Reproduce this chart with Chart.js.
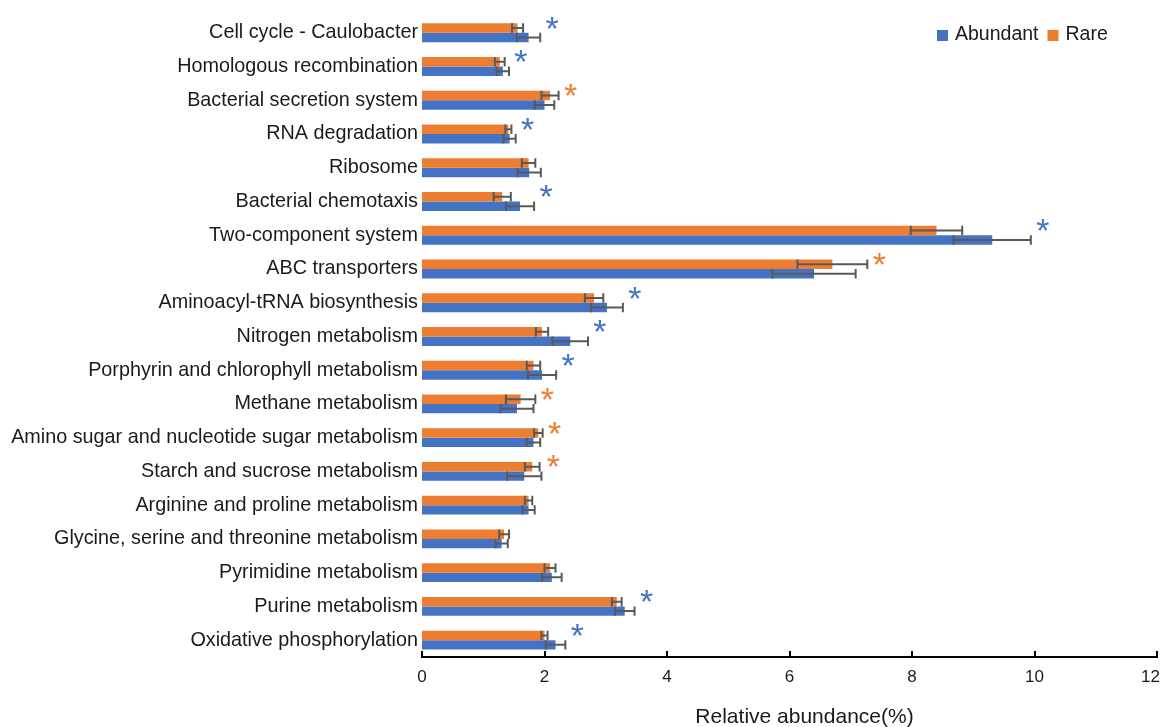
<!DOCTYPE html>
<html>
<head>
<meta charset="utf-8">
<script src="https://cdn.jsdelivr.net/npm/chart.js@4.4.1/dist/chart.umd.min.js"></script>
<style>
  html, body { margin: 0; padding: 0; background: #ffffff; }
  #wrap { width: 1164px; height: 727px; position: relative; }
</style>
</head>
<body>
<div id="wrap"><canvas id="chart" width="1164" height="727"></canvas></div>
<script>
// KEGG pathways, listed top to bottom
const pathways = [
  'Cell cycle - Caulobacter',
  'Homologous recombination',
  'Bacterial secretion system',
  'RNA degradation',
  'Ribosome',
  'Bacterial chemotaxis',
  'Two-component system',
  'ABC transporters',
  'Aminoacyl-tRNA biosynthesis',
  'Nitrogen metabolism',
  'Porphyrin and chlorophyll metabolism',
  'Methane metabolism',
  'Amino sugar and nucleotide sugar metabolism',
  'Starch and sucrose metabolism',
  'Arginine and proline metabolism',
  'Glycine, serine and threonine metabolism',
  'Pyrimidine metabolism',
  'Purine metabolism',
  'Oxidative phosphorylation'
];

// Mean relative abundance (%) and standard deviation
const abundant   = [1.74, 1.32, 2.00, 1.43, 1.75, 1.60, 9.31, 6.40, 3.02, 2.42, 1.96, 1.55, 1.82, 1.67, 1.74, 1.30, 2.12, 3.31, 2.18];
const abundantSD = [0.19, 0.10, 0.16, 0.10, 0.19, 0.23, 0.63, 0.68, 0.26, 0.29, 0.23, 0.27, 0.11, 0.28, 0.10, 0.10, 0.16, 0.16, 0.16];
const rare       = [1.56, 1.27, 2.09, 1.41, 1.74, 1.31, 8.40, 6.70, 2.81, 1.96, 1.82, 1.61, 1.90, 1.80, 1.74, 1.34, 2.09, 3.18, 2.00];
const rareSD     = [0.09, 0.08, 0.14, 0.05, 0.11, 0.14, 0.42, 0.57, 0.15, 0.10, 0.11, 0.24, 0.07, 0.12, 0.06, 0.08, 0.09, 0.08, 0.05];

// Group that is significantly enriched for each pathway ('' = not significant)
const significant = ['Abundant', 'Abundant', 'Rare', 'Abundant', '', 'Abundant', 'Abundant', 'Rare', 'Abundant',
                     'Abundant', 'Abundant', 'Rare', 'Rare', 'Rare', '', '', '', 'Abundant', 'Abundant'];

const xTicks = [0, 2, 4, 6, 8, 10, 12];
const xTitle = 'Relative abundance(%)';

const BLUE = '#4472C4';
const ORANGE = '#ED7D31';
const TEXT = '#1a1a1a';
const FONT = '"Liberation Sans", Arial, sans-serif';

// Error bars with end caps at each bar tip
const errorBars = {
  id: 'errorBars',
  afterDatasetsDraw(chart) {
    const ctx = chart.ctx;
    const xs = chart.scales.x;
    ctx.save();
    ctx.strokeStyle = '#595959';
    ctx.lineWidth = 2;
    chart.data.datasets.forEach((ds, di) => {
      const meta = chart.getDatasetMeta(di);
      meta.data.forEach((bar, i) => {
        const v = ds.data[i], e = ds.sd[i];
        const x0 = xs.getPixelForValue(v - e);
        const x1 = xs.getPixelForValue(v + e);
        const y = bar.y;
        const h = bar.height / 2;
        ctx.beginPath();
        ctx.moveTo(x0, y); ctx.lineTo(x1, y);
        ctx.moveTo(x0, y - h); ctx.lineTo(x0, y + h);
        ctx.moveTo(x1, y - h); ctx.lineTo(x1, y + h);
        ctx.stroke();
      });
    });
    ctx.restore();
  }
};

// Significance asterisks beside the longest error bar of each pathway
const asterisks = {
  id: 'asterisks',
  afterDatasetsDraw(chart) {
    const ctx = chart.ctx;
    const xs = chart.scales.x;
    const ys = chart.scales.y;
    ctx.save();
    ctx.font = '34px ' + FONT;
    ctx.textAlign = 'center';
    ctx.textBaseline = 'alphabetic';
    significant.forEach((g, i) => {
      if (!g) return;
      const reach = Math.max(abundant[i] + abundantSD[i], rare[i] + rareSD[i]);
      const x = xs.getPixelForValue(reach) + 12;
      const y = ys.getPixelForValue(i) + 7;
      ctx.fillStyle = g === 'Abundant' ? BLUE : ORANGE;
      ctx.fillText('*', x, y);
    });
    ctx.restore();
  }
};

// Value axis: short upward tick marks, tick labels and the axis title
const valueAxis = {
  id: 'valueAxis',
  afterDraw(chart) {
    const ctx = chart.ctx;
    const xs = chart.scales.x;
    const yb = chart.chartArea.bottom;
    const W = chart.width;
    ctx.save();
    ctx.strokeStyle = '#000';
    ctx.lineWidth = 2;
    xTicks.forEach(v => {
      const x = Math.round(xs.getPixelForValue(v));
      ctx.beginPath();
      ctx.moveTo(x, yb);
      ctx.lineTo(x, yb - 6);
      ctx.stroke();
    });
    ctx.fillStyle = TEXT;
    ctx.font = '17px ' + FONT;
    ctx.textAlign = 'center';
    ctx.textBaseline = 'middle';
    xTicks.forEach(v => {
      const s = String(v);
      const half = ctx.measureText(s).width / 2;
      const x = Math.min(xs.getPixelForValue(v), W - half - 4);
      ctx.fillText(s, x, yb + 20);
    });
    ctx.font = '21px ' + FONT;
    ctx.fillText(xTitle, (chart.chartArea.left + chart.chartArea.right) / 2 + 15, yb + 60);
    ctx.restore();
  }
};

// Legend placed inside the plot at the top right
const insideLegend = {
  id: 'insideLegend',
  afterDraw(chart) {
    const ctx = chart.ctx;
    ctx.save();
    ctx.font = '19.5px ' + FONT;
    ctx.textBaseline = 'middle';
    ctx.textAlign = 'left';
    const order = [1, 0]; // Abundant first, then Rare
    let x = 937;
    const y = 35;
    order.forEach(di => {
      const ds = chart.data.datasets[di];
      ctx.fillStyle = ds.backgroundColor;
      ctx.fillRect(x, y - 5, 11, 11);
      x += 18;
      ctx.fillStyle = TEXT;
      ctx.fillText(ds.label, x, y);
      x += ctx.measureText(ds.label).width + 9;
    });
    ctx.restore();
  }
};

new Chart(document.getElementById('chart'), {
  type: 'bar',
  data: {
    labels: pathways,
    datasets: [
      { label: 'Rare', data: rare, sd: rareSD, backgroundColor: ORANGE,
        categoryPercentage: 0.56, barPercentage: 1.0 },
      { label: 'Abundant', data: abundant, sd: abundantSD, backgroundColor: BLUE,
        categoryPercentage: 0.56, barPercentage: 1.0 }
    ]
  },
  options: {
    indexAxis: 'y',
    responsive: false,
    animation: false,
    layout: { padding: { top: 12, right: 7, bottom: 0, left: 0 } },
    scales: {
      x: {
        min: 0, max: 12,
        afterBuildTicks(scale) { scale.ticks = xTicks.map(v => ({ value: v })); },
        ticks: { display: false },
        grid: { display: false, drawTicks: false },
        border: { display: true, color: '#000', width: 2 },
        afterFit(scale) {
          scale.height = 70;
          scale.paddingLeft = 0;
          scale.paddingRight = 0;
        }
      },
      y: {
        grid: { display: false, drawTicks: false },
        border: { display: false },
        ticks: { color: TEXT, font: { family: FONT, size: 19.8 }, padding: 4, autoSkip: false },
        afterFit(scale) { scale.width = 422; }
      }
    },
    plugins: {
      legend: { display: false },
      tooltip: { enabled: false }
    }
  },
  plugins: [errorBars, asterisks, valueAxis, insideLegend]
});
</script>
</body>
</html>
